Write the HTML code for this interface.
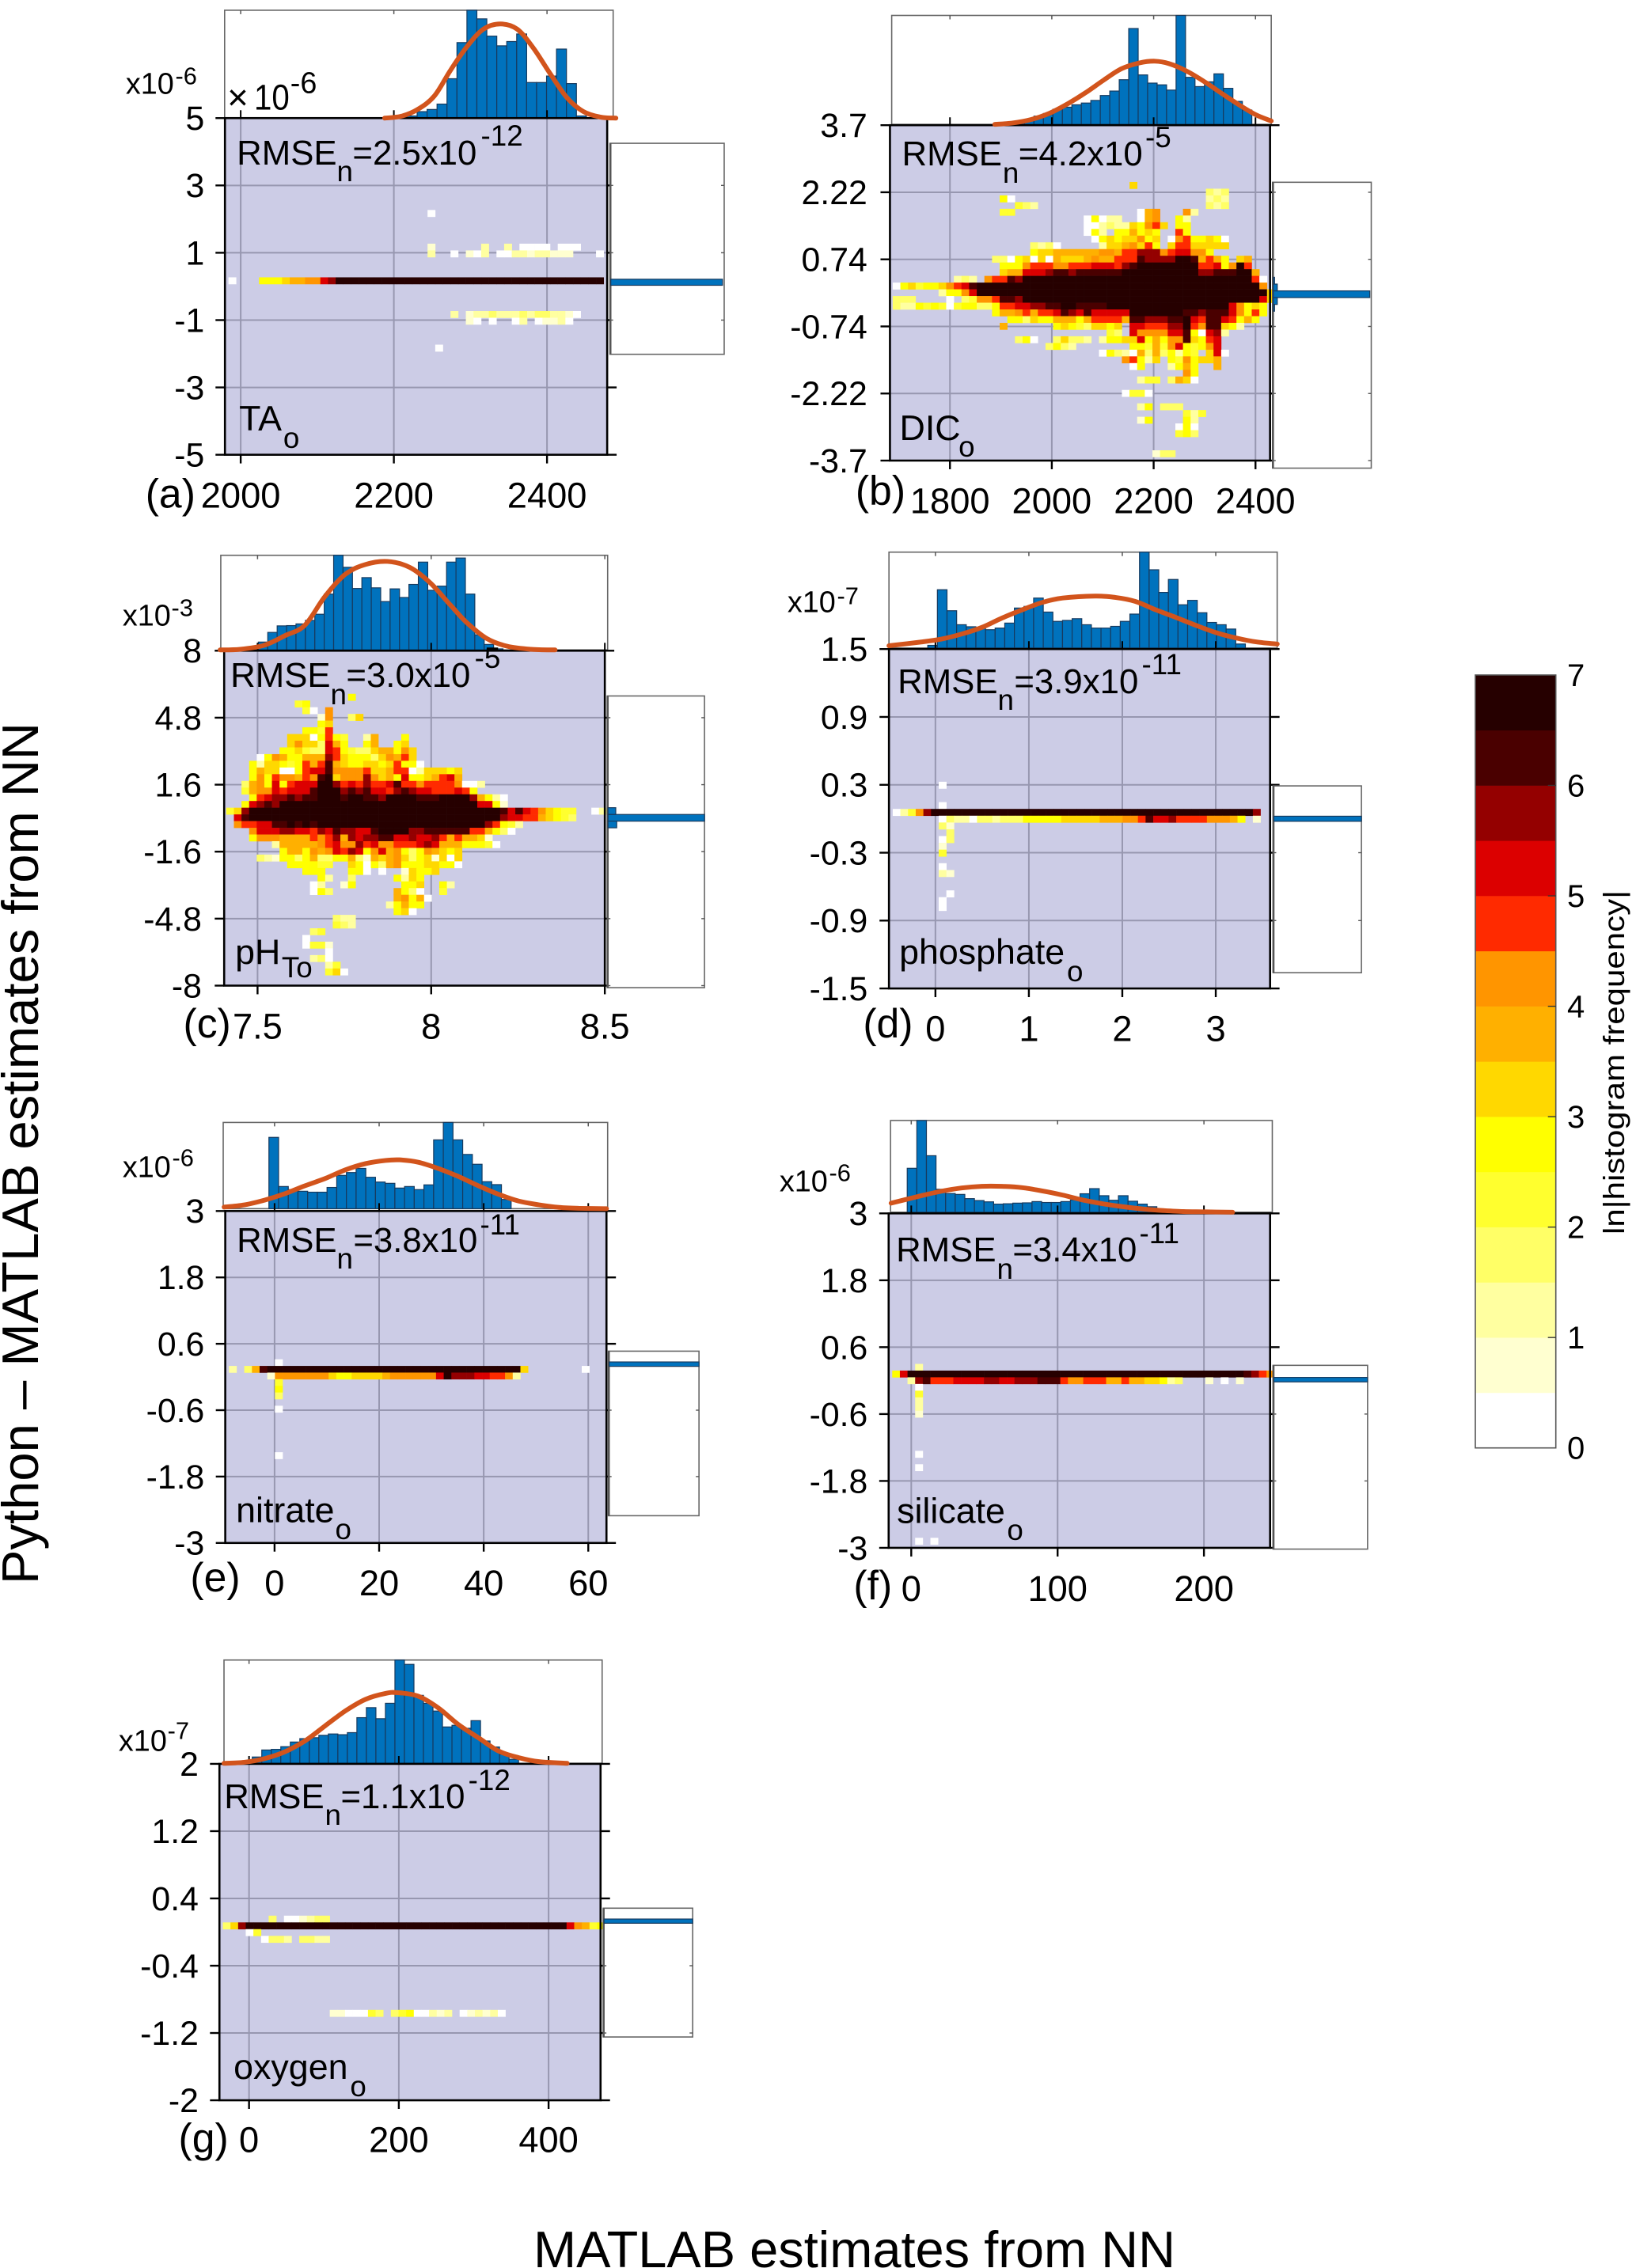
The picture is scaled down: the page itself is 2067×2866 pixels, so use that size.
<!DOCTYPE html>
<html lang="en">
<head>
<meta charset="utf-8">
<title>Python minus MATLAB estimates from NN</title>
<style>
html,body{margin:0;padding:0;background:#fff;}
svg{display:block;}
text{font-family:"Liberation Sans",sans-serif;fill:#000;}
.xtick{font-size:45.5px;}
.ytick{font-size:43px;}
.big{font-size:44px;}
.var{font-size:45px;}
.exp{font-size:37px;}
.sub{font-size:37px;}
.mult{font-size:38px;}
.mexp{font-size:31px;}
.plab{font-size:52px;}
</style>
</head>
<body>
<svg id="fig" xmlns="http://www.w3.org/2000/svg" width="2067" height="2866" viewBox="0 0 2067 2866">
<rect x="0" y="0" width="2067" height="2866" fill="#fff"/>
<g id="marks"></g>

<g transform="translate(130 0) scale(.9949) translate(-130 0)">
<text class="mult" x="159" y="119">x10</text>
<text class="mexp" x="222" y="107">-6</text>
<text x="288" y="139" font-size="46">×</text>
<text x="322" y="139" font-size="46" textLength="45" lengthAdjust="spacingAndGlyphs">10</text>
<text x="368" y="118" font-size="38">-6</text>
<text class="big" x="300" y="209">RMSE</text>
<text class="sub" x="427" y="230">n</text>
<text class="big" x="447" y="209">=2.5x10</text>
<text class="exp" x="610" y="185">-12</text>
<text class="var" x="303" y="547">TA</text>
<text class="sub" x="359" y="569">o</text>
<text class="plab" x="184" y="645">(a)</text>
</g>

<g transform="translate(1050 0) scale(.9949) translate(-1050 0)">
<text class="big" x="1140" y="210">RMSE</text>
<text class="sub" x="1268" y="232">n</text>
<text class="big" x="1288" y="210">=4.2x10</text>
<text class="exp" x="1449" y="187">-5</text>
<text class="var" x="1137" y="559">DIC</text>
<text class="sub" x="1212" y="580">o</text>
<text class="plab" x="1081" y="641">(b)</text>
</g>

<g transform="translate(130 680) scale(.9949) translate(-130 -680)">
<text class="mult" x="155" y="791">x10</text>
<text class="mexp" x="217" y="779">-3</text>
<text class="big" x="292" y="869">RMSE</text>
<text class="sub" x="419" y="891">n</text>
<text class="big" x="439" y="869">=3.0x10</text>
<text class="exp" x="602" y="845">-5</text>
<text class="var" x="298" y="1221">pH</text>
<text class="sub" x="357" y="1238">To</text>
<text class="plab" x="232" y="1314">(c)</text>
</g>

<g transform="translate(960 680) scale(.9949) translate(-960 -680)">
<text class="mult" x="995" y="774">x10</text>
<text class="mexp" x="1058" y="764">-7</text>
<text class="big" x="1135" y="877">RMSE</text>
<text class="sub" x="1262" y="898">n</text>
<text class="big" x="1283" y="877">=3.9x10</text>
<text class="exp" x="1445" y="853">-11</text>
<text class="var" x="1137" y="1221">phosphate</text>
<text class="sub" x="1350" y="1243">o</text>
<text class="plab" x="1091" y="1314">(d)</text>
</g>

<g transform="translate(130 1400) scale(.9949) translate(-130 -1400)">
<text class="mult" x="155" y="1488">x10</text>
<text class="mexp" x="218" y="1474">-6</text>
<text class="big" x="300" y="1583">RMSE</text>
<text class="sub" x="427" y="1604">n</text>
<text class="big" x="448" y="1583">=3.8x10</text>
<text class="exp" x="609" y="1561">-11</text>
<text class="var" x="299" y="1926">nitrate</text>
<text class="sub" x="425" y="1948">o</text>
<text class="plab" x="241" y="2014">(e)</text>
</g>

<g transform="translate(960 1400) scale(.9949) translate(-960 -1400)">
<text class="mult" x="985" y="1506">x10</text>
<text class="mexp" x="1048" y="1493">-6</text>
<text class="big" x="1133" y="1595">RMSE</text>
<text class="sub" x="1261" y="1617">n</text>
<text class="big" x="1281" y="1595">=3.4x10</text>
<text class="exp" x="1442" y="1572">-11</text>
<text class="var" x="1134" y="1927">silicate</text>
<text class="sub" x="1274" y="1949">o</text>
<text class="plab" x="1079" y="2024">(f)</text>
</g>

<g transform="translate(130 2080) scale(.9949) translate(-130 -2080)">
<text class="mult" x="150" y="2213">x10</text>
<text class="mexp" x="212" y="2198">-7</text>
<text class="big" x="284" y="2286">RMSE</text>
<text class="sub" x="412" y="2307">n</text>
<text class="big" x="432" y="2286">=1.1x10</text>
<text class="exp" x="594" y="2263">-12</text>
<text class="var" x="296" y="2630">oxygen</text>
<text class="sub" x="444" y="2652">o</text>
<text class="plab" x="226" y="2723">(g)</text>
</g>

<text transform="translate(48,2002) rotate(-90)" font-size="65" textLength="1089" lengthAdjust="spacingAndGlyphs">Python – MATLAB estimates from NN</text>
<text x="674" y="2865" font-size="64.5" textLength="811" lengthAdjust="spacingAndGlyphs">MATLAB estimates from NN</text>
<text transform="translate(2052,1560) rotate(-90)" font-size="37" textLength="435" lengthAdjust="spacingAndGlyphs">ln|histogram frequency|</text>
</svg>

<script>
/* ---------- colour scale ---------- */
const levelColors = ["#ffffff","#ffffd0","#ffffa0","#ffff66","#ffff2e","#ffff00","#ffd800","#ffb000","#ff9500","#ff2a00","#dc0000","#940000","#4a0000","#260000"];
const colorbarTicks = [0,1,2,3,4,5,6,7];

/* ---------- panel (a) TA ---------- */
const taXTicks = [2000,2200,2400];
const taXLabels = ["2000","2200","2400"];
const taYTicks = [5,3,1,-1,-3,-5];
const taYLabels = ["5","3","1","-1","-3","-5"];
const taHist = [.02,.06,.08,.13,.365,.70,1,.92,.76,.67,.71,.78,.33,.33,.39,.64,.32,.02];
const taCurveX = [2188,2209,2231,2253,2274,2296,2317,2339,2361,2382,2404,2426,2447,2469,2490];
const taCurveY = [0,.016,.08,.206,.444,.667,.825,.873,.825,.651,.413,.19,.063,.01,0];
const taMarginY = [.124];
const taMarginLen = [.985];
const taHeat = [
[13,26,"0"],[18,26,"1"],[18,33,"2"],[18,36,"2"],[18,38,"0000"],[18,43,"000"],
[19,26,"2"],[19,29,"0"],[19,31,"102"],[19,35,"00"],[19,37,"2212211"],[19,44,"1"],[19,48,"0"],
[23,0,"0"],[23,4,"55567788abddddddddddddddddddddddddddddddddddd"],
[28,29,"2"],[28,31,"122322232332210"],[29,31,"10"],[29,34,"0"],[29,37,"02"],[29,40,"01120"],[33,27,"0"]
];

/* ---------- panel (b) DIC ---------- */
const dicXTicks = [1800,2000,2200,2400];
const dicXLabels = ["1800","2000","2200","2400"];
const dicYTicks = [3.7,2.22,.74,-.74,-2.22,-3.7];
const dicYLabels = ["3.7","2.22","0.74","-0.74","-2.22","-3.7"];
const dicHist = [.022,.03,.044,.076,.10,.139,.158,.18,.196,.22,.265,.306,.41,.88,.454,.379,.363,.315,1,.432,.347,.391,.464,.331,.211,.132];
const dicCurveX = [1888,1923,1959,1995,2030,2066,2102,2137,2173,2202,2230,2266,2302,2337,2373,2402,2431];
const dicCurveY = [0,.013,.044,.101,.186,.29,.407,.511,.565,.58,.558,.486,.385,.274,.164,.085,.032];
const dicMarginY = [-.03,.12,-.18,.27,-.33];
const dicMarginLen = [.985,.04,.04,.012,.012];
const dicHeat = [
[0,31,"6"],[1,41,"323"],[2,14,"50"],[2,41,"232"],[3,16,"432"],[3,41,"323"],
[4,14,"44"],[4,32,"078"],[4,38,"82"],
[5,25,"05022"],[5,32,"078"],[5,37,"52"],
[6,25,"00232265896"],[6,37,"55"],
[7,25,"052.557565"],[7,37,"95"],
[8,26,"056566856"],[8,36,"08955650"],
[9,18,"3230"],[9,27,"26678695"],[9,36,"69966666"],
[10,18,"56677777788799bbb89aa885"],
[11,13,"3305606076667877999cbbbbddc7975"],[11,45,"67"],
[12,14,"555899988999aaa9bcdddddddd99a58d9"],
[13,14,"677aaabccbccccccddddddddddbbcccdd7"],
[14,8,"232"],[14,12,"899cbdddddddddddddddddddddddddddddd90"],
[15,0,"056455689acddddddddddddddddddddddddddddddddddddd8"],
[16,6,"2558adddddddddddddddddddddddddddddddddddddd6"],
[17,0,"333"],[17,7,"0.34889ccbddddddddddddddddddddddddddddddda6"],
[18,0,"3225454045533599aabbccddccccdddddddddddddddda8565"],
[19,13,"57789799acbacaaaaadddddddccbccca8595"],
[20,15,"5536557775799997ccbbbccda9cca9575"],
[21,14,"7"],[21,21,"565436656.aa999bbd98cc652"],
[22,28,"43.a8888aac50ab2"],
[23,16,"350"],[23,21,"36332.25566a57588c659a"],
[24,20,"3532"],[24,31,"554748a5458a"],
[25,27,"0532073735254.6a0"],
[26,30,"89526.5485667"],
[27,31,"05...2575..7"],
[28,38,"85"],[29,32,"244.3760"],[31,30,"0440"],[33,32,"25.333"],[34,38,"424"],
[35,32,"15"],[35,38,"52"],[36,37,"050"],[37,37,"453"],[40,34,"133"]
];

/* ---------- panel (c) pH ---------- */
const phXTicks = [7.5,8,8.5];
const phXLabels = ["7.5","8","8.5"];
const phYTicks = [8,4.8,1.6,-1.6,-4.8,-8];
const phYLabels = ["8","4.8","1.6","-1.6","-4.8","-8"];
const phHist = [.083,.185,.254,.257,.275,.312,.377,.59,1,.873,.649,.764,.656,.511,.645,.554,.692,.928,.63,.674,.928,.971,.59,.159,.058,.011];
const phCurveX = [7.392,7.45,7.52,7.578,7.636,7.694,7.752,7.81,7.874,7.938,7.997,8.055,8.101,8.159,8.218,8.287,8.357];
const phCurveY = [0,.007,.05,.149,.26,.565,.797,.902,.935,.873,.71,.475,.294,.123,.04,.007,0];
const phMarginY = [.016,.34,-.3];
const phMarginLen = [1,.08,.09];
const phHeat = [
[0,16,"5"],[1,9,"45"],[2,10,"40"],[2,13,"8"],[3,12,"18"],[3,16,"36"],[4,12,"56"],
[5,10,"55"],[5,12,"4"],[5,13,"9"],
[6,8,"66605954"],[6,18,"27"],[6,23,"5"],
[7,8,"68663a75"],[7,18,"57"],[7,22,"56"],
[8,7,"556433a95433677586"],
[9,4,"058755777b96555368796"],
[10,3,"5266545979c765566569550"],
[11,3,"57660059aac88889667990266656"],
[12,3,"585988798cd6888b8675a55679a7"],
[13,2,"3785a59aaaddb9a9b99ac99899998002"],
[14,2,"4788a9aaacdddbcbcaa9bcbaa999a95"],
[15,3,"59abbcbccdddcddccbddddcccddddb7520"],
[16,2,"5abcbddddddddddddddddddddddddddaa51"],
[17,0,"46bdddddddddddddddddddddddddddddddddcaca986544"],[17,48,"02"],
[18,1,"acdddddddddddddddddddddddddddddddddbaa9976543"],
[19,1,"899aaccdcdcddddddddddddddddddddddb9542"],
[20,3,"8aaabbaa9bacbbaacddddbbcccccc997530"],
[21,3,"58887777989b7babbccaabaab9797761"],
[22,6,"27777789a88b9a88999aba77755540"],
[23,7,"5775878a9ba58a7853587656"],
[24,4,"321553573355731767863561606"],
[25,8,"555544..650537855566550"],
[26,10,"555"],[26,16,"550"],[26,20,"0"],[26,23,"16556"],
[27,12,"52"],[27,16,"3"],[27,22,"5265"],
[28,11,"02"],[28,15,"15"],[28,23,"556"],[28,28,"52"],
[29,11,"053"],[29,22,"7530"],[29,28,"4"],
[30,22,"78570"],[31,21,"25755"],[32,22,"560"],
[33,14,"322"],[34,14,"432"],[35,11,"34"],[36,10,"0"],[37,10,"0441"],[38,13,"0"],[39,11,"230"],[40,13,"24"],[41,13,"460"]
];

/* ---------- panel (d) phosphate ---------- */
const po4XTicks = [0,1,2,3];
const po4XLabels = ["0","1","2","3"];
const po4YTicks = [1.5,.9,.3,-.3,-.9,-1.5];
const po4YLabels = ["1.5","0.9","0.3","-0.3","-0.9","-1.5"];
const po4Hist = [.028,.608,.389,.243,.222,.208,.191,.208,.26,.417,.434,.521,.375,.278,.288,.306,.243,.208,.208,.226,.278,.354,1,.816,.58,.715,.451,.497,.368,.267,.243,.198,.042];
const po4CurveX = [-.497,-.151,.065,.281,.497,.713,.93,1.146,1.362,1.708,1.924,2.14,2.356,2.573,2.789,3.005,3.221,3.437,3.658];
const po4CurveY = [.024,.063,.094,.146,.215,.313,.399,.476,.521,.542,.528,.486,.399,.319,.236,.16,.104,.063,.042];
const po4MarginY = [0];
const po4MarginLen = [1];
const po4Heat = [
[4,6,"0"],[7,6,"0"],
[8,0,"0248bddddddddddddddddddddddddddddddddddddddddddb"],
[9,6,"032203323335555566666777889caab9999888 75.1"],
[10,6,"31"],[11,7,"3"],[12,6,"03"],[13,6,"1"],[14,6,"4"],[16,6,"0"],[17,6,"21"],[20,7,"0"],[21,6,"0"],[22,6,"0"]
];

/* ---------- panel (e) nitrate ---------- */
const no3XTicks = [0,20,40,60];
const no3XLabels = ["0","20","40","60"];
const no3YTicks = [3,1.8,.6,-.6,-1.8,-3];
const no3YLabels = ["3","1.8","0.6","-0.6","-1.8","-3"];
const no3Hist = [.827,.257,.221,.202,.191,.191,.246,.386,.419,.467,.364,.309,.294,.239,.257,.221,.276,.798,1,.798,.629,.515,.313,.279,.107];
const no3CurveX = [-9.65,-5.79,-1.93,1.93,5.79,9.65,13.5,17.4,21.2,23.9,27.4,31.3,35.1,39,42.9,46.7,50.6,54.4,58.3,63.5];
const no3CurveY = [.018,.044,.099,.173,.265,.349,.449,.522,.559,.566,.54,.467,.375,.265,.165,.088,.044,.015,.004,0];
const no3MarginY = [.232];
const no3MarginLen = [1];
const no3Heat = [
[7,6,"0"],
[8,0,"2.37cddddddddddddddddddddddddddddddddd6"],[8,46,"0"],
[9,5,"1888888865566667888888adbbbaa9982"],
[10,6,"4"],[11,6,"5"],[12,6,"3"],[14,6,"0"],[21,6,"0"]
];

/* ---------- panel (f) silicate ---------- */
const sio4XTicks = [0,100,200];
const sio4XLabels = ["0","100","200"];
const sio4YTicks = [3,1.8,.6,-.6,-1.8,-3];
const sio4YLabels = ["3","1.8","0.6","-0.6","-1.8","-3"];
const sio4Hist = [.479,1,.616,.25,.204,.194,.148,.127,.113,.088,.092,.099,.102,.116,.106,.106,.116,.134,.201,.257,.18,.13,.18,.12,.088,.06,.014];
const sio4CurveX = [-13.8,6.9,20.7,34.4,48.2,62,75.8,89.5,103.3,117,130.9,144.6,158.4,172.2,185.9,199.7,219.6];
const sio4CurveY = [.099,.18,.229,.264,.282,.282,.268,.232,.187,.134,.092,.06,.035,.018,.007,.004,0];
const sio4MarginY = [.017];
const sio4MarginLen = [1];
const sio4Heat = [
[7,3,"2"],
[8,0,"5addddddddddddddddddddddddddddddddddddddddddddcb986"],
[9,2,"2bc999aaaabbaabbbccc9889997797766523"],[9,41,"1"],[9,43,"0"],[9,45,"1"],
[10,3,"0"],[11,3,"4"],[12,3,"2"],[13,3,"2"],[14,3,"1"],[20,3,"0"],[22,3,"0"],[33,3,"0"],[33,5,"0"]
];

/* ---------- panel (g) oxygen ---------- */
const o2XTicks = [0,200,400];
const o2XLabels = ["0","200","400"];
const o2YTicks = [2,1.2,.4,-.4,-1.2,-2];
const o2YLabels = ["2","1.2","0.4","-0.4","-1.2","-2"];
const o2Hist = [.061,.129,.135,.161,.206,.239,.248,.271,.284,.277,.297,.442,.539,.432,.581,1,.958,.658,.581,.506,.352,.368,.339,.413,.216,.158,.087,.039];
const o2CurveX = [-33.4,-6.5,20.5,47.4,74.4,101.3,128.3,155.3,182.2,198.4,225.3,252.3,279.2,306.2,333.2,360.1,387.1,424.8];
const o2CurveY = [0,.01,.045,.11,.216,.361,.506,.619,.677,.684,.652,.539,.377,.248,.119,.055,.016,0];
const o2MarginY = [.13];
const o2MarginLen = [1];
const o2Heat = [
[7,6,"3"],[7,8,"001233"],
[8,0,"36bdddddddddddddddddddddddddddddddddddddddddda8745"],
[9,3,"04"],
[10,5,"0332"],[10,10,"3322"],
[21,14,"1100043.34500212.012120"]
];

/* ---------- layout (axes frames only) ---------- */
const panels = [
 {id:"a",o:[130,0],xT:taXTicks,xL:taXLabels,yT:taYTicks,yL:taYLabels,hist:taHist,hx0:2217.4,hw:13,cx:taCurveX,cy:taCurveY,my:taMarginY,ml:taMarginLen,mh:.18,heat:taHeat,bx0:1984,bw:10,by0:4.87,bh:.2,
  xa:[2000,305,2400,694],ya:[5,150,-5,577.6],box:[285,770.4,150,577.6],hb:[284.6,778,13,150],rb:[774,919,182,450],yEnd:259,xBase:645},
 {id:"b",o:[1050,0],xT:dicXTicks,xL:dicXLabels,yT:dicYTicks,yL:dicYLabels,hist:dicHist,hx0:1909.2,hw:18.6,cx:dicCurveX,cy:dicCurveY,my:dicMarginY,ml:dicMarginLen,mh:.148,heat:dicHeat,bx0:1687.6,bw:15,by0:2.447,bh:.148,
  xa:[1800,1201,2400,1589],ya:[3.7,159,-3.7,585],box:[1124.8,1607.5,159,585],hb:[1127,1609,19.6,158],rb:[1610.7,1736,231.5,594.6],yEnd:1096,xBase:652},
 {id:"c",o:[130,680],xT:phXTicks,xL:phXLabels,yT:phYTicks,yL:phYLabels,hist:phHist,hx0:7.5023,hw:.0271,cx:phCurveX,cy:phCurveY,my:phMarginY,ml:phMarginLen,mh:.32,heat:phHeat,bx0:7.41,bw:.0219,by0:5.94,bh:.32,
  xa:[7.5,326.4,8.5,767.4],ya:[8,823,-8,1248.4],box:[284,767.4,823,1248.4],hb:[279.7,771,701.8,822],rb:[770.5,894,880.5,1251],yEnd:255.6,xBase:1316},
 {id:"d",o:[960,680],xT:po4XTicks,xL:po4XLabels,yT:po4YTicks,yL:po4YLabels,hist:po4Hist,hx0:-.082,hw:.103,cx:po4CurveX,cy:po4CurveY,my:po4MarginY,ml:po4MarginLen,mh:.045,heat:po4Heat,bx0:-.457,bw:.082,by0:.567,bh:.06,
  xa:[0,1183,3,1539],ya:[1.5,820.9,-1.5,1252],box:[1124,1608,820.9,1252],hb:[1124,1617,697.8,819.6],rb:[1611.8,1724,994.7,1232],yEnd:1097,xBase:1319},
 {id:"e",o:[130,1400],xT:no3XTicks,xL:no3XLabels,yT:no3YTicks,yL:no3YLabels,hist:no3Hist,hx0:-1.08,hw:1.853,cx:no3CurveX,cy:no3CurveY,my:no3MarginY,ml:no3MarginLen,mh:.08,heat:no3Heat,bx0:-8.73,bw:1.467,by0:1.16,bh:.12,
  xa:[0,348,60,746.4],ya:[3,1531,-3,1952.6],box:[285.4,769.5,1531,1952.6],hb:[282.8,771,1418.5,1528],rb:[772,887,1709,1918],yEnd:259,xBase:2019},
 {id:"f",o:[960,1400],xT:sio4XTicks,xL:sio4XLabels,yT:sio4YTicks,yL:sio4YLabels,hist:sio4Hist,hx0:-2.75,hw:6.56,cx:sio4CurveX,cy:sio4CurveY,my:sio4MarginY,ml:sio4MarginLen,mh:.08,heat:sio4Heat,bx0:-13,bw:5.22,by0:1.14,bh:.12,
  xa:[0,1152.3,200,1524],ya:[3,1534,-3,1958.8],box:[1123.6,1608,1534,1958.8],hb:[1126,1610.8,1416,1532.5],rb:[1611.8,1731.8,1727,1960.4],yEnd:1097,xBase:2026},
 {id:"g",o:[130,2080],xT:o2XTicks,xL:o2XLabels,yT:o2YTicks,yL:o2YLabels,hist:o2Hist,hx0:4.3,hw:12.7,cx:o2CurveX,cy:o2CurveY,my:o2MarginY,ml:o2MarginLen,mh:.05,heat:o2Heat,bx0:-35,bw:10.2,by0:.755,bh:.08,
  xa:[0,315.6,400,696],ya:[2,2229.7,-2,2657],box:[278,762,2229.7,2657],hb:[283.8,764,2097.8,2229],rb:[765.4,879,2413,2576.6],yEnd:251.5,xBase:2723}
];

const NS = "http://www.w3.org/2000/svg";
const root = document.getElementById("marks");
function mk(tag, attrs, parent){
  const n = document.createElementNS(NS, tag);
  for (const k in attrs) n.setAttribute(k, attrs[k]);
  parent.appendChild(n);
  return n;
}
function linear(a){
  const k = (a[3]-a[1])/(a[2]-a[0]);
  return v => a[1] + (v-a[0])*k;
}
function smoothPath(pts){
  let d = "M" + pts[0][0].toFixed(1) + " " + pts[0][1].toFixed(1);
  for (let i=0;i<pts.length-1;i++){
    const p0 = pts[Math.max(i-1,0)], p1 = pts[i], p2 = pts[i+1], p3 = pts[Math.min(i+2,pts.length-1)];
    const c1x = p1[0]+(p2[0]-p0[0])/6, c1y = p1[1]+(p2[1]-p0[1])/6;
    const c2x = p2[0]-(p3[0]-p1[0])/6, c2y = p2[1]-(p3[1]-p1[1])/6;
    d += " C"+c1x.toFixed(1)+" "+c1y.toFixed(1)+" "+c2x.toFixed(1)+" "+c2y.toFixed(1)+" "+p2[0].toFixed(1)+" "+p2[1].toFixed(1);
  }
  return d;
}

panels.forEach(function(p){
  const x = linear(p.xa), y = linear(p.ya);
  const L = p.box[0], R = p.box[1], T = p.box[2], B = p.box[3];
  const g = mk("g", {transform:"translate("+p.o[0]+" "+p.o[1]+") scale(.9949) translate("+(-p.o[0])+" "+(-p.o[1])+")"}, root);
  
  

  /* top histogram frame */
  const hL = p.hb[0], hR = p.hb[1], hT = p.hb[2], hB = p.hb[3];
  const hy = v => hB - v*(hB-hT);
  let el = mk("rect", {x:hL,y:hT,width:hR-hL,height:hB-hT,fill:"#fff",stroke:"#666","stroke-width":1.6}, g);
  
  
  p.xT.forEach(function(t){
    el = mk("line", {x1:x(t),x2:x(t),y1:hT,y2:hT+5,stroke:"#555","stroke-width":1.5}, g);
    
    
  });
  p.hist.forEach(function(v,i){
    const x0 = x(p.hx0 + i*p.hw), x1 = x(p.hx0 + (i+1)*p.hw);
    el = mk("rect", {x:x0,y:hy(v),width:x1-x0,height:hB-hy(v),fill:"#0072bd",stroke:"#173a5e","stroke-width":1.2}, g);
    
    
  });

  /* heat plot background */
  el = mk("rect", {x:L,y:T,width:R-L,height:B-T,fill:"#ccccE6"}, g);
  
  
  p.xT.forEach(function(t){
    if (x(t) <= L+1 || x(t) >= R-1) return;
    el = mk("line", {x1:x(t),x2:x(t),y1:T,y2:B,stroke:"#9797b0","stroke-width":2}, g);
    
    
  });
  p.yT.forEach(function(t){
    el = mk("line", {x1:L,x2:R,y1:y(t),y2:y(t),stroke:"#9797b0","stroke-width":2}, g);
    
    
  });

  /* heat cells */
  p.heat.forEach(function(run){
    const row = run[0], col = run[1], levels = run[2].replace(/ /g,"");
    for (let i=0;i<levels.length;i++){
      const ch = levels.charAt(i);
      if (ch === ".") continue;
      const lv = parseInt(ch,16);
      const x0 = x(p.bx0 + (col+i)*p.bw), x1 = x(p.bx0 + (col+i+1)*p.bw);
      const y0 = y(p.by0 - row*p.bh), y1 = y(p.by0 - (row+1)*p.bh);
      el = mk("rect", {x:x0.toFixed(2),y:y0.toFixed(2),width:(x1-x0+.3).toFixed(2),height:(y1-y0+.3).toFixed(2),fill:levelColors[lv]}, g);
      
      
    }
  });

  /* axes frame & ticks */
  el = mk("rect", {x:L,y:T,width:R-L,height:B-T,fill:"none",stroke:"#000","stroke-width":2.6}, g);
  
  
  p.yT.forEach(function(t,i){
    el = mk("line", {x1:L-12,x2:L,y1:y(t),y2:y(t),stroke:"#000","stroke-width":2.4}, g);
    
    
    el = mk("line", {x1:R,x2:R+12,y1:y(t),y2:y(t),stroke:"#000","stroke-width":2.4}, g);
    
    
    el = mk("text", {x:p.yEnd,y:y(t)+15,"text-anchor":"end","class":"ytick"}, g);
    el.textContent = p.yL[i];
    
    
  });
  p.xT.forEach(function(t,i){
    el = mk("line", {x1:x(t),x2:x(t),y1:B,y2:B+11,stroke:"#000","stroke-width":2.4}, g);
    
    
    el = mk("line", {x1:x(t),x2:x(t),y1:T-10,y2:T,stroke:"#000","stroke-width":2}, g);
    
    
    el = mk("text", {x:x(t),y:p.xBase,"text-anchor":"middle","class":"xtick"}, g);
    el.textContent = p.xL[i];
    
    
  });

  /* fitted curve on the top histogram */
  const pts = p.cx.map(function(v,i){ return [x(v), hy(p.cy[i])]; });
  el = mk("path", {d:smoothPath(pts),fill:"none",stroke:"#d2541c","stroke-width":6,"stroke-linecap":"round"}, g);
  
  

  /* right marginal histogram */
  const rL = p.rb[0], rR = p.rb[1], rT = p.rb[2], rB = p.rb[3];
  el = mk("rect", {x:rL,y:rT,width:rR-rL,height:rB-rT,fill:"#fff",stroke:"#666","stroke-width":1.6}, g);
  
  
  el = mk("line", {x1:rL+.5,x2:rL+.5,y1:rT,y2:rB,stroke:"#555","stroke-width":2.6}, g);
  
  
  p.yT.forEach(function(t){
    const py = y(t);
    if (py < rT+2 || py > rB-2) return;
    el = mk("line", {x1:rL,x2:rL+4,y1:py,y2:py,stroke:"#555","stroke-width":1.4}, g);
    
    
    el = mk("line", {x1:rR-4,x2:rR,y1:py,y2:py,stroke:"#555","stroke-width":1.4}, g);
    
    
  });
  p.my.forEach(function(v,i){
    const y0 = y(v + p.mh/2), y1 = y(v - p.mh/2);
    el = mk("rect", {x:rL+1,y:y0,width:(rR-rL-1)*p.ml[i],height:y1-y0,fill:"#0072bd",stroke:"#173a5e","stroke-width":1.2}, g);
    
    
  });
});

/* ---------- colour bar ---------- */
(function(){
  const cb = mk("g", {}, root);
  
  
  const cL = 1864, cR = 1965.7;
  const cy = linear([7,853,0,1829.7]);
  let el;
  levelColors.forEach(function(c,i){
    const y0 = cy((i+1)*.5), y1 = cy(i*.5);
    el = mk("rect", {x:cL,y:y0,width:cR-cL,height:y1-y0+.3,fill:c}, cb);
    
    
  });
  el = mk("rect", {x:cL,y:cy(7),width:cR-cL,height:cy(0)-cy(7),fill:"none",stroke:"#555","stroke-width":1.6}, cb);
  
  
  colorbarTicks.forEach(function(t){
    if (t>0 && t<7){
      el = mk("line", {x1:cR-10,x2:cR,y1:cy(t),y2:cy(t),stroke:"#333","stroke-width":1.4}, cb);
      
      
    }
    el = mk("text", {x:1980,y:cy(t)+14,"font-size":40}, cb);
    el.textContent = String(t);
    
    
  });
})();
</script>
</body>
</html>
